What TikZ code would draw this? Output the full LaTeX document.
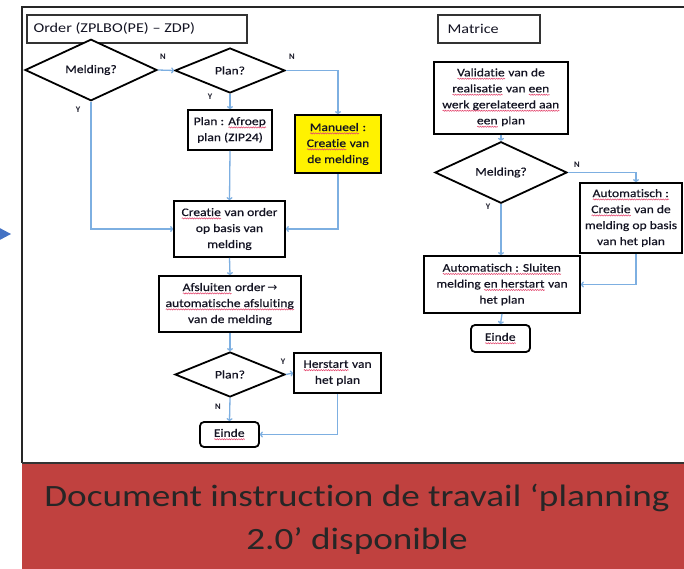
\documentclass[tikz,border=0pt]{standalone}
\usepackage{fontspec}
\setmainfont{Carlito}[Ligatures={TeX,NoCommon}]
\newfontfamily\boxfont{Carlito}[FakeStretch=1.18,FakeBold=0.5,Ligatures={TeX,NoCommon}]
\newfontfamily\widefont{Carlito}[FakeStretch=1.2,Ligatures={TeX,NoCommon}]
\newfontfamily\symfont{DejaVu Sans}
\usetikzlibrary{shapes.geometric,arrows.meta,decorations.pathmorphing}
\definecolor{flowblue}{RGB}{125,175,225}
\definecolor{bandred}{RGB}{192,65,63}
\definecolor{bandtext}{RGB}{38,38,38}
\definecolor{marker}{RGB}{68,114,196}
\definecolor{inktext}{RGB}{20,20,35}
\definecolor{squig}{RGB}{228,70,110}
% spell-check style wavy underline below a word
\newsavebox\sqbox
\newcommand\sq[1]{\sbox\sqbox{#1}\rlap{\usebox\sqbox}%
  \tikz[baseline=0pt]{\draw[draw=squig,line width=0.55pt,sharp corners,decorate,
    decoration={snake,amplitude=0.6pt,segment length=2.4pt}]
    (0pt,-2.4pt) -- (\wd\sqbox,-2.4pt);}}
\begin{document}
\begin{tikzpicture}[x=1pt,y=-1pt,
  box/.style={draw=black,line width=1.8pt,fill=white,align=center,inner sep=0pt,
    text=inktext,font=\boxfont\fontsize{11.5}{16}\selectfont},
  endbox/.style={box,rounded corners=4pt},
  decision/.style={diamond,draw=black,line width=1.8pt,fill=white,inner sep=0pt,
    text=inktext,font=\boxfont\fontsize{11.5}{14}\selectfont},
  titlebox/.style={draw=black!80,line width=1.3pt,fill=white,inner sep=0pt},
  titletext/.style={anchor=west,text=inktext,font=\widefont\fontsize{13.5}{16}\selectfont},
  flow/.style={draw=flowblue,line width=1.3pt,-{To[length=3pt,width=6pt]}},
  yn/.style={font=\fontsize{8.5}{8.5}\selectfont\bfseries,text=inktext}
]
\useasboundingbox (0,0) rectangle (684,569);

% outer frame and caption band
\fill[white] (22,7) rectangle (700,463);
\draw[line width=1.8pt,black!85] (22,463) -- (22,7) -- (700,7);
\fill[bandred] (22,463) rectangle (700,575);
\draw[line width=1.4pt,black!80] (22,463) -- (700,463);
\fill[marker] (-6,225) -- (11,234) -- (-6,243) -- cycle;
\node[text=bandtext,align=center,font=\widefont\fontsize{31}{43}\selectfont] (caption) at (357,519)
  {Document instruction de travail ‘planning\\2.0’ disponible};

% left flow: order
\node[titlebox,minimum width=220,minimum height=28] (ordertitle) at (137,29) {};
\node[titletext] (ordertext) at (30,29) {Order (ZPLBO(PE) – ZDP)};

\node[decision,minimum width=132,minimum height=46] (meld) at (91,70) {Melding?};
\node[decision,minimum width=110,minimum height=45] (plan) at (230,70.5) {Plan?};
\node[box,minimum width=84,minimum height=40] (afroep) at (230,130) {Plan : \sq{Afroep}\\plan (ZIP24)};
\node[box,fill=yellow,minimum width=86,minimum height=58] (manueel) at (338,144)
  {\sq{Manueel} :\\\sq{Creatie} van\\de melding};
\node[box,minimum width=111,minimum height=56] (creatie) at (229.5,229)
  {\sq{Creatie} van order\\op basis van\\melding};
\node[box,minimum width=142,minimum height=56] (afsluiten) at (230,304)
  {\sq{Afsluiten} order{\symfont\fontsize{12}{12}\selectfont\,→}\\\sq{automatische afsluiting}\\van de melding};
\node[decision,minimum width=110,minimum height=45] (plantwo) at (230,374.5) {Plan?};
\node[box,minimum width=87,minimum height=40] (herstart) at (337.5,373) {\sq{Herstart} van\\het plan};
\node[endbox,minimum width=59,minimum height=25] (eindeone) at (229.5,434.5) {\sq{Einde}};

\draw[flow] (meld.east) -- (plan.west);
\draw[flow] (plan.south) -- (afroep.north);
\draw[flow] (plan.east) -| (manueel.north);
\draw[flow] (meld.south) |- (creatie.west);
\draw[flow] (afroep.south) -- (creatie.north);
\draw[flow] (manueel.south) |- (creatie.east);
\draw[flow] (creatie.south) -- (afsluiten.north);
\draw[flow] (afsluiten.south) -- (plantwo.north);
\draw[flow] (plantwo.east) -- (herstart.west);
\draw[flow] (plantwo.south) -- (eindeone.north);
\draw[flow] (herstart.south) |- (eindeone.east);

\node[yn] (nA) at (163,57) {N};
\node[yn] (nB) at (292,57) {N};
\node[yn] (yA) at (210,97) {Y};
\node[yn] (yB) at (78,110) {Y};
\node[yn] (yC) at (283,362) {Y};
\node[yn] (nC) at (218,407) {N};

% right flow: matrice
\node[titlebox,minimum width=102,minimum height=28] (matbox) at (489,29) {};
\node[titletext] (mattext) at (444,29) {Matrice};

\node[box,minimum width=134,minimum height=72] (valid) at (501,98)
  {\sq{Validatie} van de\\\sq{realisatie} van \sq{een}\\\sq{werk gerelateerd aan}\\\sq{een} plan};
\node[decision,minimum width=132,minimum height=45] (meldtwo) at (501,172.5) {Melding?};
\node[box,minimum width=102,minimum height=70] (auto) at (631,218)
  {\sq{Automatisch :}\\\sq{Creatie} van de\\melding op basis\\van het plan};
\node[box,minimum width=156,minimum height=57] (sluiten) at (502,284.5)
  {\sq{Automatisch : Sluiten}\\melding \sq{en herstart} van\\het plan};
\node[endbox,minimum width=59,minimum height=27] (eindetwo) at (500.5,338.5) {\sq{Einde}};

\draw[flow] (valid.south) -- (meldtwo.north);
\draw[flow] (meldtwo.east) -| ([xshift=5pt]auto.north);
\draw[flow] (meldtwo.south) -- (sluiten.north -| meldtwo.south);
\draw[flow] ([xshift=5pt]auto.south) |- (sluiten.east);
\draw[flow] (sluiten.south) -- (eindetwo.north);

\node[yn] (nD) at (577,165) {N};
\node[yn] (yD) at (488,207) {Y};
\end{tikzpicture}
\end{document}
